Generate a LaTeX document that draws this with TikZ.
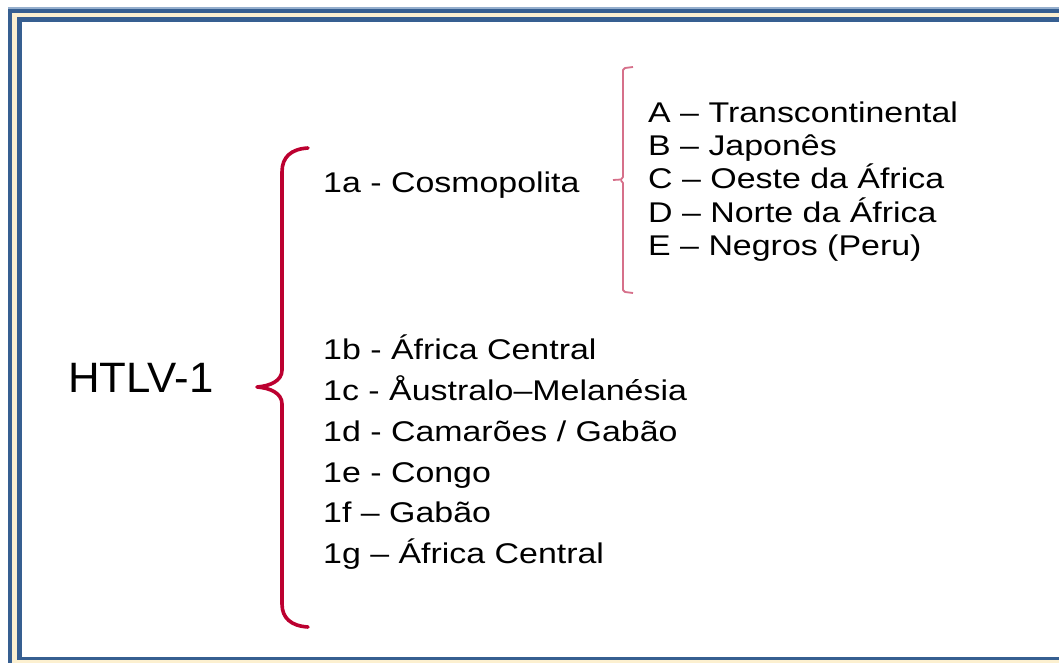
\documentclass[tikz,border=0pt]{standalone}
\usepackage{fontspec}
\setmainfont{Liberation Sans}
\newfontfamily\widesans[FakeStretch=1.19]{Liberation Sans}
\newfontfamily\titlesans[FakeStretch=1.03]{Liberation Sans}
\definecolor{framedark}{RGB}{54,95,145}
\definecolor{framelight}{RGB}{150,175,205}
\definecolor{framecream}{RGB}{252,240,208}
\definecolor{bracered}{RGB}{188,0,48}
\definecolor{bracepink}{RGB}{214,112,138}
\tikzset{
  label/.style={anchor=base west, inner sep=0pt, font=\widesans\fontsize{28.5}{30}\selectfont},
  title/.style={anchor=base west, inner sep=0pt, font=\titlesans\fontsize{42.5}{44}\selectfont},
  bigbrace/.style={draw=bracered, line width=3.6pt, line cap=round, line join=round},
  smallbrace/.style={draw=bracepink, line width=1.8pt, line join=round}
}
\begin{document}
\begin{tikzpicture}[x=1pt, y=-1pt]
\useasboundingbox (0,0) rectangle (1059,663);
\begin{scope}
\clip (0,0) rectangle (1059,663);
% double frame: blue, cream, blue, then white page
\fill[white] (0,0) rectangle (1059,663);
\fill[framelight] (7.5,7.5) rectangle (1100,700);
\fill[framedark] (7.5,9) rectangle (1100,700);
\fill[framecream] (12,13) rectangle (1095,695);
\fill[framedark] (17,17) rectangle (1090,660);
\fill[white] (22,22.5) rectangle (1085,657);
\end{scope}

% labels
\node[title] (htlv) at (68,392) {HTLV-1};
\node[label] (s1a) at (323,193) {1a - Cosmopolita};
\node[label] (sA) at (648,123) {A – Transcontinental};
\node[label] (sB) at (648,156) {B – Japonês};
\node[label] (sC) at (648,189) {C – Oeste da África};
\node[label] (sD) at (648,222) {D – Norte da África};
\node[label] (sE) at (648,255) {E – Negros (Peru)};
\node[label] (s1b) at (323,359) {1b - África Central};
\node[label] (s1c) at (323,400) {1c - Åustralo–Melanésia};
\node[label] (s1d) at (323,441) {1d - Camarões / Gabão};
\node[label] (s1e) at (323,482) {1e - Congo};
\node[label] (s1f) at (323,522) {1f – Gabão};
\node[label] (s1g) at (323,563) {1g – África Central};

% large curly brace grouping the subtypes
\draw[bigbrace] (308,148) .. controls (291,149) and (282,157) .. (282,172)
  -- (282,370) .. controls (282,381) and (270,386) .. (257,387)
  .. controls (270,388) and (282,393) .. (282,404)
  -- (282,604) .. controls (282,618) and (291,626) .. (308,627);

% small bracket grouping the subgroups of 1a
\draw[smallbrace] (633,67) -- (625,68) -- (623,70) -- (623,177) -- (621,179.5) -- (613,180)
  (621,180.5) -- (623,183) -- (623,290) -- (625,292) -- (633,293);
\end{tikzpicture}
\end{document}
